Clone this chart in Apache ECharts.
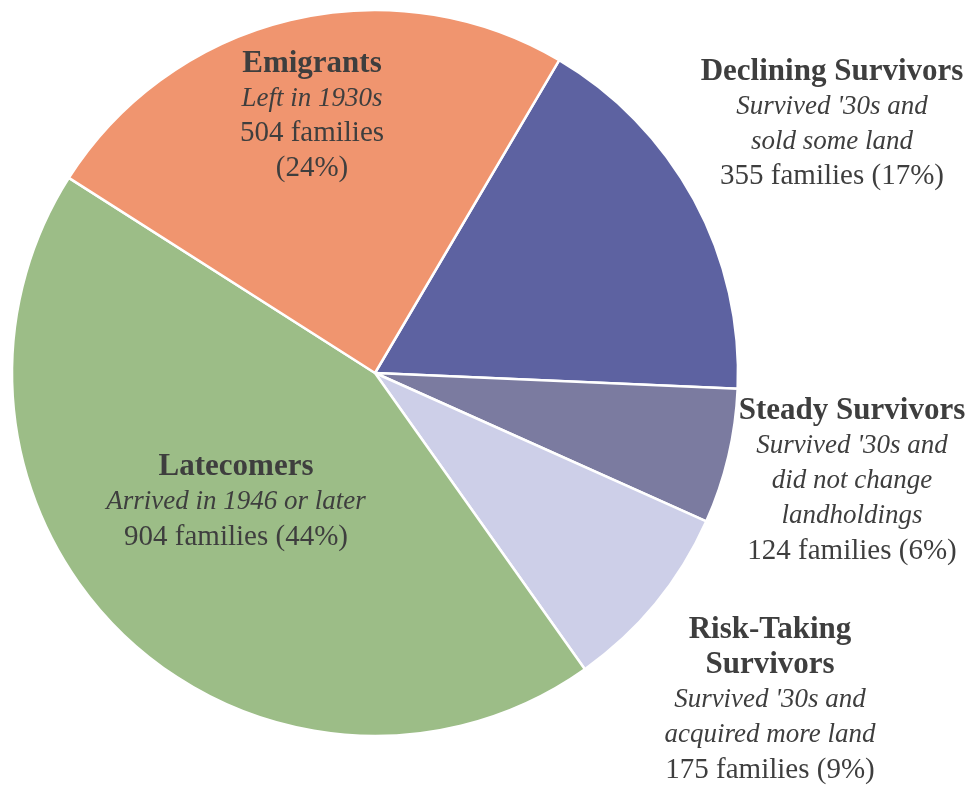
<!DOCTYPE html>
<html>
<head>
<meta charset="utf-8">
<script src="https://cdn.jsdelivr.net/npm/echarts@6/dist/echarts.min.js"></script>
<style>
  html, body { margin: 0; padding: 0; background: #ffffff; }
  #chart { width: 968px; height: 789px; }
</style>
</head>
<body>
<div id="chart"></div>
<script>
// Family groups, listed clockwise starting from the Declining Survivors slice
const groups = ['Declining Survivors', 'Steady Survivors', 'Risk-Taking Survivors', 'Latecomers', 'Emigrants'];
const titles = ['Declining Survivors', 'Steady Survivors', 'Risk-Taking\nSurvivors', 'Latecomers', 'Emigrants'];
const notes = [
  "Survived '30s and\nsold some land",
  "Survived '30s and\ndid not change\nlandholdings",
  "Survived '30s and\nacquired more land",
  'Arrived in 1946 or later',
  'Left in 1930s'
];
const families = [355, 124, 175, 904, 504];
const shares = [17, 6, 9, 44, 24];
const valueLines = [
  '{n} families ({p}%)',
  '{n} families ({p}%)',
  '{n} families ({p}%)',
  '{n} families ({p}%)',
  '{n} families\n({p}%)'
];
const colors = ['#5d62a1', '#7b7ba0', '#cdcfe8', '#9cbd87', '#f0956f'];

// Label anchor points (centre of each text block)
const labelSpots = [
  [832, 124],
  [852, 481],
  [770, 700],
  [236, 502],
  [312, 116]
];

const chart = echarts.init(document.getElementById('chart'), null, { renderer: 'canvas' });

function tagLines(text, tag) {
  return text.split('\n').map(s => '{' + tag + '|' + s + '}').join('\n');
}

const baseText = { fontFamily: '"Liberation Serif", "DejaVu Serif", serif', lineHeight: 35, color: '#3e3e3e' };

chart.setOption({
  backgroundColor: '#ffffff',
  animation: false,
  series: [{
    type: 'pie',
    center: [375, 373],
    radius: [0, 363],
    startAngle: 59.5,
    clockwise: true,
    avoidLabelOverlap: false,
    itemStyle: { borderColor: '#ffffff', borderWidth: 2.5 },
    labelLine: { show: false },
    emphasis: { disabled: true },
    label: {
      show: true,
      position: 'inside',
      align: 'center',
      formatter: function (p) {
        const i = p.dataIndex;
        const v = valueLines[i].replace('{n}', families[i]).replace('{p}', shares[i]);
        return tagLines(titles[i], 't') + '\n' + tagLines(notes[i], 'i') + '\n' + tagLines(v, 'v');
      },
      rich: {
        t: Object.assign({}, baseText, { fontWeight: 'bold', fontSize: 31 }),
        i: Object.assign({}, baseText, { fontStyle: 'italic', fontSize: 27 }),
        v: Object.assign({}, baseText, { fontSize: 29 })
      }
    },
    labelLayout: function (params) {
      const s = labelSpots[params.dataIndex];
      return { x: s[0], y: s[1], align: 'center', verticalAlign: 'middle' };
    },
    data: groups.map((g, i) => ({ name: g, value: families[i], itemStyle: { color: colors[i] } }))
  }]
});
</script>
</body>
</html>
